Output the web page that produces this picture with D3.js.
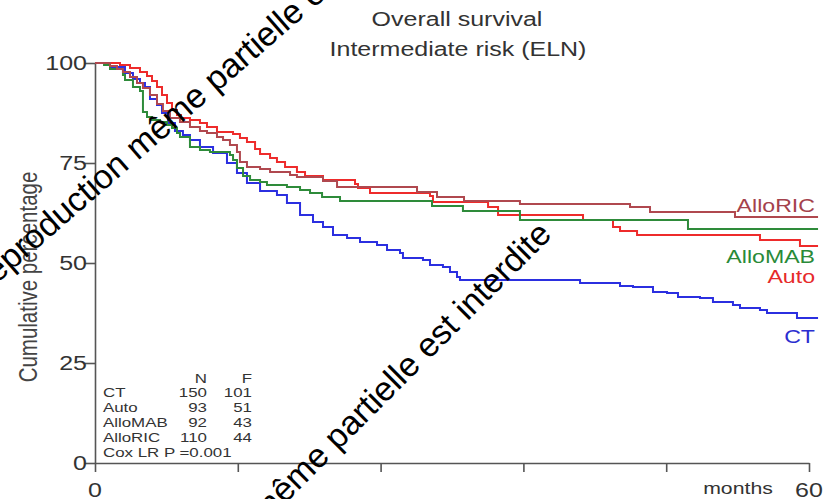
<!DOCTYPE html>
<html>
<head>
<meta charset="utf-8">
<script src="https://cdn.jsdelivr.net/npm/d3@7"></script>
<style>
  body { margin: 0; background: #fff; }
  svg text { font-family: "Liberation Sans", Arial, sans-serif; }
</style>
</head>
<body>
<svg id="chart" width="831" height="499"></svg>
<script>
// groups and table values
var groups = ["CT", "Auto", "AlloMAB", "AlloRIC"];
var nPatients = [150, 93, 92, 110];
var nEvents = [101, 51, 43, 44];
var coxText = "Cox LR P =0.001";

var xTicks = [0, 12, 24, 36, 48, 60];
var xTickLabels = ["0", "", "", "", "", "60"];
var yTicks = [0, 25, 50, 75, 100];

// survival steps [month, percent]
var ctSurv = [[0,100],[1.26,99],[2.52,97.5],[3.19,96],[3.78,95],[4.2,94],[4.62,91],[5.21,89.5],[5.63,87.5],
  [6.13,85],[6.72,83],[7.39,82],[7.98,80.75],[8.82,79],[9.92,77.5],[11.09,75],[11.93,72.5],[12.77,70],
  [13.87,68],[15.29,67],[16.13,65],[17.23,62],[18.32,60.25],[19.16,59],[20.0,57],[21.18,56.25],[22.27,55.25],
  [23.7,54.5],[24.54,53.25],[25.63,52.5],[25.88,51.25],[27.56,50.75],[28.15,49.5],[29.24,49],[29.83,47.75],
  [30.42,46.5],[30.67,45.75],[40.76,45],[44.12,44.25],[45.21,44],[46.89,42.75],[48.07,42.5],[48.99,41.5],
  [50.84,41.25],[51.93,40.25],[53.61,39.5],[54.2,38.75],[55.88,38.25],[56.47,37.5],[58.99,36.25],[60.76,36.25]];

var autoSurv = [[0,100],[2.1,99.5],[2.94,98.75],[3.78,97.75],[4.37,96.75],[4.79,95.5],[5.21,94],[5.63,92],
  [6.05,90],[6.47,88.25],[6.89,87],[7.23,86.25],[7.98,85.75],[8.82,85],[9.41,84],[10.25,82.75],[11.6,82.25],
  [12.18,81.25],[12.77,80.25],[13.45,78.5],[13.87,77.25],[14.71,76.25],[15.29,75.25],[15.97,74],[16.97,72.75],
  [17.65,71.75],[19.16,70.75],[21.85,69.75],[22.1,68.75],[23.11,67.5],[28.15,66.75],[28.4,65.25],[33.03,64],
  [33.87,62],[41.01,60.75],[43.53,59],[44.12,58],[45.55,57],[55.88,55.75],[59.24,54.25],[60.76,54.25]];

var alloMabSurv = [[0,100],[0.76,99.5],[1.26,98.5],[2.35,97],[2.52,95.75],[3.19,94],[3.78,93],[4.03,87.75],
  [4.37,86.5],[4.79,85.75],[5.46,85.25],[6.05,84.5],[6.47,83.75],[6.89,82.5],[7.14,81.5],[7.98,79],[8.82,78.25],
  [9.66,77.75],[11.34,77],[11.6,75.75],[11.93,73.75],[12.44,71.75],[13.03,70.75],[13.87,70.25],[14.45,69.5],
  [16.13,69],[17.23,68.25],[18.07,67.5],[19.08,66.5],[20.59,65.5],[28.32,64.25],[30.92,63],[35.71,60.75],
  [49.83,58.5],[60.76,58.5]];

var alloRicSurv = [[0,100],[1.26,99.25],[1.85,98.5],[2.35,97.75],[2.94,96.5],[3.53,95],[4.03,93.75],[4.62,92],
  [5.21,89.75],[5.71,88],[6.3,86.25],[7.14,85.25],[7.98,84],[8.82,83],[9.41,82.5],[10.25,81.5],[10.76,80.75],
  [11.34,79.5],[11.93,77.75],[12.18,75.25],[12.77,74],[13.87,73.5],[14.71,72.75],[16.39,72],[16.97,71.5],
  [19.16,70.5],[20.34,69],[27.06,67.75],[28.74,66.5],[31.01,65.5],[35.71,64.75],[44.96,64],[46.64,62.75],
  [53.78,61.5],[60.76,61.5]];

var series = [
  { name: "CT", values: ctSurv, color: "#2b2fe0", labelColor: "#2a2ed0" },
  { name: "Auto", values: autoSurv, color: "#ee2b2b", labelColor: "#e62a2a" },
  { name: "AlloMAB", values: alloMabSurv, color: "#2e8b3a", labelColor: "#2a8a38" },
  { name: "AlloRIC", values: alloRicSurv, color: "#b0484f", labelColor: "#a4424c" }
];

var sx = 1.25;  // the picture is stretched a bit sideways

var svg = d3.select("#chart");

var x = d3.scaleLinear().domain([0, 60]).range([95, 809]);
var y = d3.scaleLinear().domain([0, 100]).range([463, 63]);

function stretched(sel, px, py) {
  sel.attr("transform", "translate(" + px + "," + py + ") scale(" + sx + ",1)");
  return sel;
}

// title
stretched(svg.append("text"), 457, 26)
    .attr("text-anchor", "middle")
    .style("font-size", "20px")
    .style("fill", "#333")
    .text("Overall survival");
stretched(svg.append("text"), 458, 56)
    .attr("text-anchor", "middle")
    .style("font-size", "20px")
    .style("fill", "#333")
    .text("Intermediate risk (ELN)");

// axes
var yAxisG = svg.append("g")
    .attr("transform", "translate(" + x(0) + ",0)")
    .call(d3.axisLeft(y).tickValues(yTicks).tickSize(10).tickSizeOuter(0).tickFormat(""));
var xAxisG = svg.append("g")
    .attr("transform", "translate(0," + y(0) + ")")
    .call(d3.axisBottom(x).tickValues(xTicks).tickSize(9).tickSizeOuter(0).tickFormat(""));

[yAxisG, xAxisG].forEach(function(g) {
  g.selectAll("path, line").attr("stroke", "#555").attr("stroke-width", 1.6);
});

yTicks.forEach(function(t) {
  stretched(svg.append("text"), 87, y(t) + 7)
      .attr("text-anchor", "end")
      .style("font-size", "20px")
      .style("fill", "#333")
      .text(t);
});

xTicks.forEach(function(t, i) {
  if (!xTickLabels[i]) return;
  stretched(svg.append("text"), x(t), 497)
      .attr("text-anchor", "middle")
      .style("font-size", "20px")
      .style("fill", "#333")
      .text(xTickLabels[i]);
});

stretched(svg.append("text"), 738, 494)
    .attr("text-anchor", "middle")
    .style("font-size", "17px")
    .style("fill", "#333")
    .text("months");

svg.append("text")
    .attr("transform", "translate(37,277) scale(" + sx + ",1) rotate(-90)")
    .attr("text-anchor", "middle")
    .style("font-size", "20.5px")
    .style("fill", "#444")
    .text("Cumulative percentage");

// curves
var line = d3.line()
    .x(function(d) { return x(d[0]); })
    .y(function(d) { return y(d[1]); })
    .curve(d3.curveStepAfter);

svg.selectAll(".km")
    .data(series)
    .enter()
    .append("path")
    .attr("class", "km")
    .attr("fill", "none")
    .attr("stroke", function(d) { return d.color; })
    .attr("stroke-width", 2)
    .attr("d", function(d) { return line(d.values); });

// end labels
var labelY = { "AlloRIC": 212, "AlloMAB": 263, "Auto": 283, "CT": 343 };
series.forEach(function(s) {
  stretched(svg.append("text"), 815, labelY[s.name])
      .attr("text-anchor", "end")
      .style("font-size", "18.5px")
      .style("fill", s.labelColor)
      .text(s.name);
});

// N / F table
var tableG = svg.append("g").style("font-size", "13.5px").style("fill", "#333");
stretched(tableG.append("text"), 207, 383).attr("text-anchor", "end").text("N");
stretched(tableG.append("text"), 252, 383).attr("text-anchor", "end").text("F");
groups.forEach(function(g, i) {
  var rowY = 397 + i * 15;
  stretched(tableG.append("text"), 103, rowY).text(g);
  stretched(tableG.append("text"), 207, rowY).attr("text-anchor", "end").text(nPatients[i]);
  stretched(tableG.append("text"), 252, rowY).attr("text-anchor", "end").text(nEvents[i]);
});
stretched(tableG.append("text"), 103, 457).text(coxText);

// watermark printed over the picture
var mark = "Reproduction même partielle est interdite";
svg.append("text")
    .attr("transform", "translate(-22,300) rotate(-41)")
    .style("font-size", "34px")
    .style("fill", "#000")
    .text(mark);
svg.append("text")
    .attr("transform", "translate(553,236) rotate(-45)")
    .attr("text-anchor", "end")
    .style("font-size", "34px")
    .style("fill", "#000")
    .text(mark);
</script>
</body>
</html>
